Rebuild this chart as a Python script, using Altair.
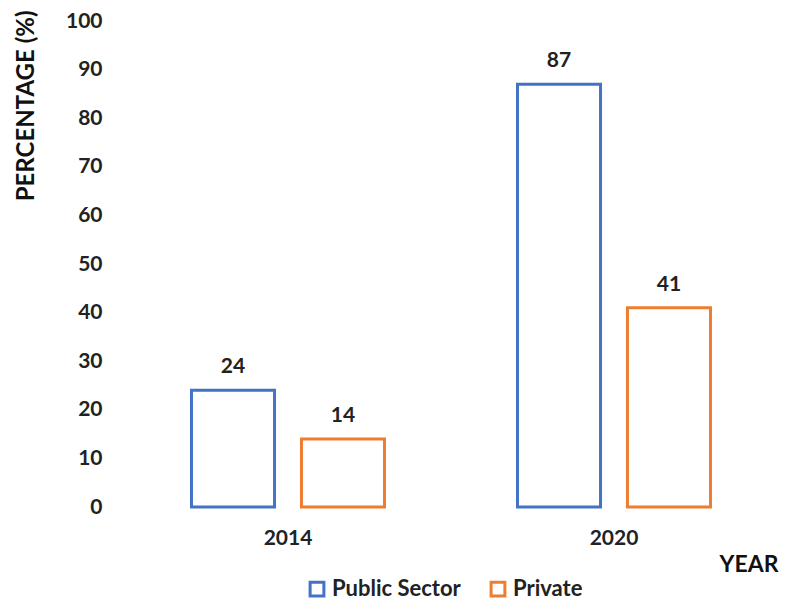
import altair as alt
import pandas as pd

years = ["2014", "2014", "2020", "2020"]
sectors = ["Public Sector", "Private", "Public Sector", "Private"]
values = [24, 14, 87, 41]

df = pd.DataFrame({"Year": years, "Sector": sectors, "Value": values})
FONT = "Lato"
order = ["Public Sector", "Private"]

x = alt.X("Year:N", title="YEAR",
          scale=alt.Scale(paddingInner=0.408, paddingOuter=0.204),
          axis=alt.Axis(labelAngle=0, domain=False, ticks=False, labelPadding=20,
                        labelFontSize=21, labelFont=FONT, labelFontWeight="bold", labelColor="#222",
                        titleFont=FONT, titleFontSize=23, titleFontWeight="bold", titleColor="#111",
                        titleAnchor="end", titleAlign="right", titleX=653, titleY=46, titleBaseline="top"))
xo = alt.XOffset("Sector:N", sort=order, scale=alt.Scale(paddingInner=0.245, paddingOuter=0))
y = alt.Y("Value:Q", title="PERCENTAGE (%)",
          scale=alt.Scale(domain=[0, 100]),
          axis=alt.Axis(values=list(range(0, 101, 10)), domain=False, ticks=False, grid=False,
                        labelPadding=23, labelFontSize=21, labelFont=FONT, labelFontWeight="bold",
                        labelColor="#222",
                        titleFont=FONT, titleFontSize=24, titleFontWeight="bold", titleColor="#111",
                        titleAngle=270, titleAlign="right", titleBaseline="middle",
                        titleX=-99, titleY=-11))
stroke = alt.Stroke("Sector:N", sort=order,
                    scale=alt.Scale(domain=order, range=["#4472C4", "#ED7D31"]),
                    legend=alt.Legend(title=None, orient="none", direction="horizontal",
                                      legendX=181, legendY=557,
                                      symbolType="square", symbolSize=190, symbolStrokeWidth=3,
                                      symbolFillColor="white", labelFont=FONT, labelFontSize=22,
                                      labelFontWeight="bold", labelColor="#222", columnPadding=24,
                                      labelOffset=4))

bars = alt.Chart(df).mark_bar(fill="white", strokeWidth=3).encode(x=x, xOffset=xo, y=y, stroke=stroke)
labels = alt.Chart(df).mark_text(baseline="bottom", dy=-13, fontSize=21, font=FONT,
                                 fontWeight="bold", color="#222").encode(
    x=x, xOffset=xo, y=y, text="Value:Q")

chart = (bars + labels).properties(
    width=652, height=486,
    autosize=alt.AutoSizeParams(type="none"),
    padding={"left": 125, "top": 21, "right": 14, "bottom": 95},
    background="white",
).configure_view(stroke=None)

chart.save("out.html", embed_options={"renderer": "svg", "actions": False})
